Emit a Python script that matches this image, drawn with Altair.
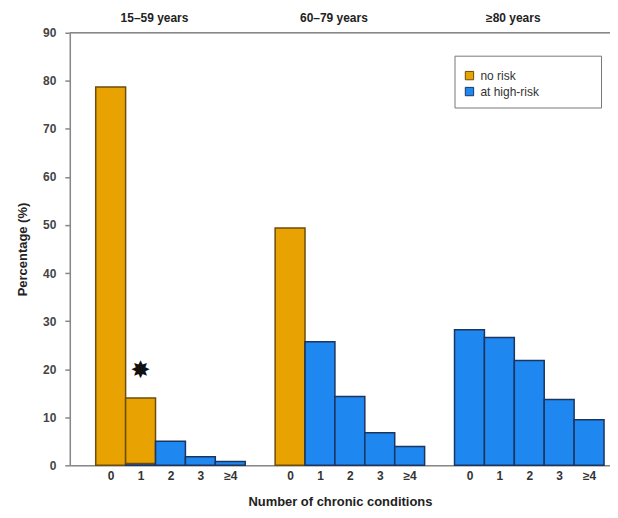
import altair as alt
import pandas as pd

groups = ["15–59 years", "60–79 years", "≥80 years"]
conditions = ["0", "1", "2", "3", "≥4"]
no_risk = [[78.7, 13.6, 0, 0, 0], [49.4, 0, 0, 0, 0], [0, 0, 0, 0, 0]]
high_risk = [[0, 0.4, 5.0, 1.8, 0.8], [0, 25.7, 14.3, 6.8, 3.9], [28.2, 26.6, 21.8, 13.7, 9.5]]
risk_names = ["no risk", "at high-risk"]
fill_colors = ["#E8A202", "#1F88F0"]
edge_colors = ["#6b4e0c", "#1b3560"]
y_ticks = list(range(0, 91, 10))
star_note = {"pos": 1, "value": 20, "text": "✸"}

step = len(conditions) + 1
rows = []
for g, grp in enumerate(groups):
    for c, cond in enumerate(conditions):
        pos = g * step + c
        base = 0.0
        for risk, vals in (("at high-risk", high_risk), ("no risk", no_risk)):
            v = vals[g][c]
            if v > 0:
                rows.append(dict(group=grp, cond=cond, risk=risk, x0=pos - 0.5,
                                 x1=pos + 0.5, y0=base, y1=base + v))
                base += v
df = pd.DataFrame(rows)
x_vals = [g * step + c for g in range(len(groups)) for c in range(len(conditions))]
label_arr = "[" + ",".join("'%s'" % c for c in conditions) + "]"

hdr = pd.DataFrame({"group": groups, "center": [g * step + 2 for g in range(len(groups))]})
note = pd.DataFrame([star_note])

FONT = "Liberation Sans"
xscale = alt.Scale(domain=[-1.367, 16.7], nice=False, zero=False)
yscale = alt.Scale(domain=[0, 90], nice=False)

xaxis = alt.Axis(values=x_vals, labelExpr=label_arr + "[datum.value % " + str(step) + "]",
                 title="Number of chronic conditions", grid=False, ticks=False,
                 labelOverlap=False, labelFont=FONT, labelFontWeight="bold",
                 labelFontSize=12, labelColor="#333",
                 labelPadding=5, titleFont=FONT, titleFontSize=13, titleFontWeight="bold",
                 titleColor="#222", titlePadding=14, domainColor="#888", domainWidth=1.5,
                 labelFlush=False)
yaxis = alt.Axis(values=y_ticks, title="Percentage (%)", grid=False, tickSize=5,
                 tickColor="#888", tickWidth=1.5, domainColor="#888", domainWidth=1.5,
                 labelOverlap=False, labelFont=FONT, labelFontWeight="bold", labelFontSize=12,
                 labelColor="#444", labelPadding=9, titleFont=FONT, titleFontSize=13,
                 titleFontWeight="bold", titleColor="#222", titlePadding=13)

bars = alt.Chart(df).mark_bar(strokeWidth=1.5).encode(
    x=alt.X("x0:Q", scale=xscale, axis=xaxis),
    x2="x1:Q",
    y=alt.Y("y1:Q", scale=yscale, axis=yaxis),
    y2="y0:Q",
    color=alt.Color("risk:N", scale=alt.Scale(domain=risk_names, range=fill_colors),
                    legend=alt.Legend(orient="none", legendX=386, legendY=23, title="m" * 29,
                                      titleFontSize=5, titlePadding=0,
                                      titleColor="rgba(0,0,0,0)", strokeColor="#777",
                                      fillColor="white", padding=9, symbolType="square",
                                      symbolSize=70, symbolStrokeColor="#333", symbolStrokeWidth=1,
                                      labelFont=FONT, labelFontSize=12, labelColor="#333",
                                      rowPadding=2, labelOffset=5)),
    stroke=alt.Stroke("risk:N", scale=alt.Scale(domain=risk_names, range=edge_colors), legend=None),
)

top_line = alt.Chart(pd.DataFrame({"v": [90]})).mark_rule(color="#888", strokeWidth=1.5).encode(
    y=alt.Y("v:Q", scale=yscale, axis=yaxis))

headers = alt.Chart(hdr).mark_text(font=FONT, fontWeight="bold", fontSize=12, color="#222",
                                   baseline="middle", dx=-16).encode(
    x=alt.X("center:Q", scale=xscale, axis=xaxis), y=alt.value(-15), text="group:N")

star = alt.Chart(note).mark_text(fontSize=24, color="#111", font="DejaVu Sans",
                                 baseline="middle", dy=2).encode(
    x=alt.X("pos:Q", scale=xscale, axis=xaxis), y=alt.Y("value:Q", scale=yscale, axis=yaxis),
    text="text:N")

chart = alt.layer(bars, top_line, headers, star).properties(
    width=542, height=434,
    autosize=alt.AutoSizeParams(type="none"),
    padding={"left": 62, "top": 24, "right": 0, "bottom": 44},
).configure_view(stroke=None).configure(background="white")

chart.save("out.html", embed_options={"renderer": "svg", "actions": False})
